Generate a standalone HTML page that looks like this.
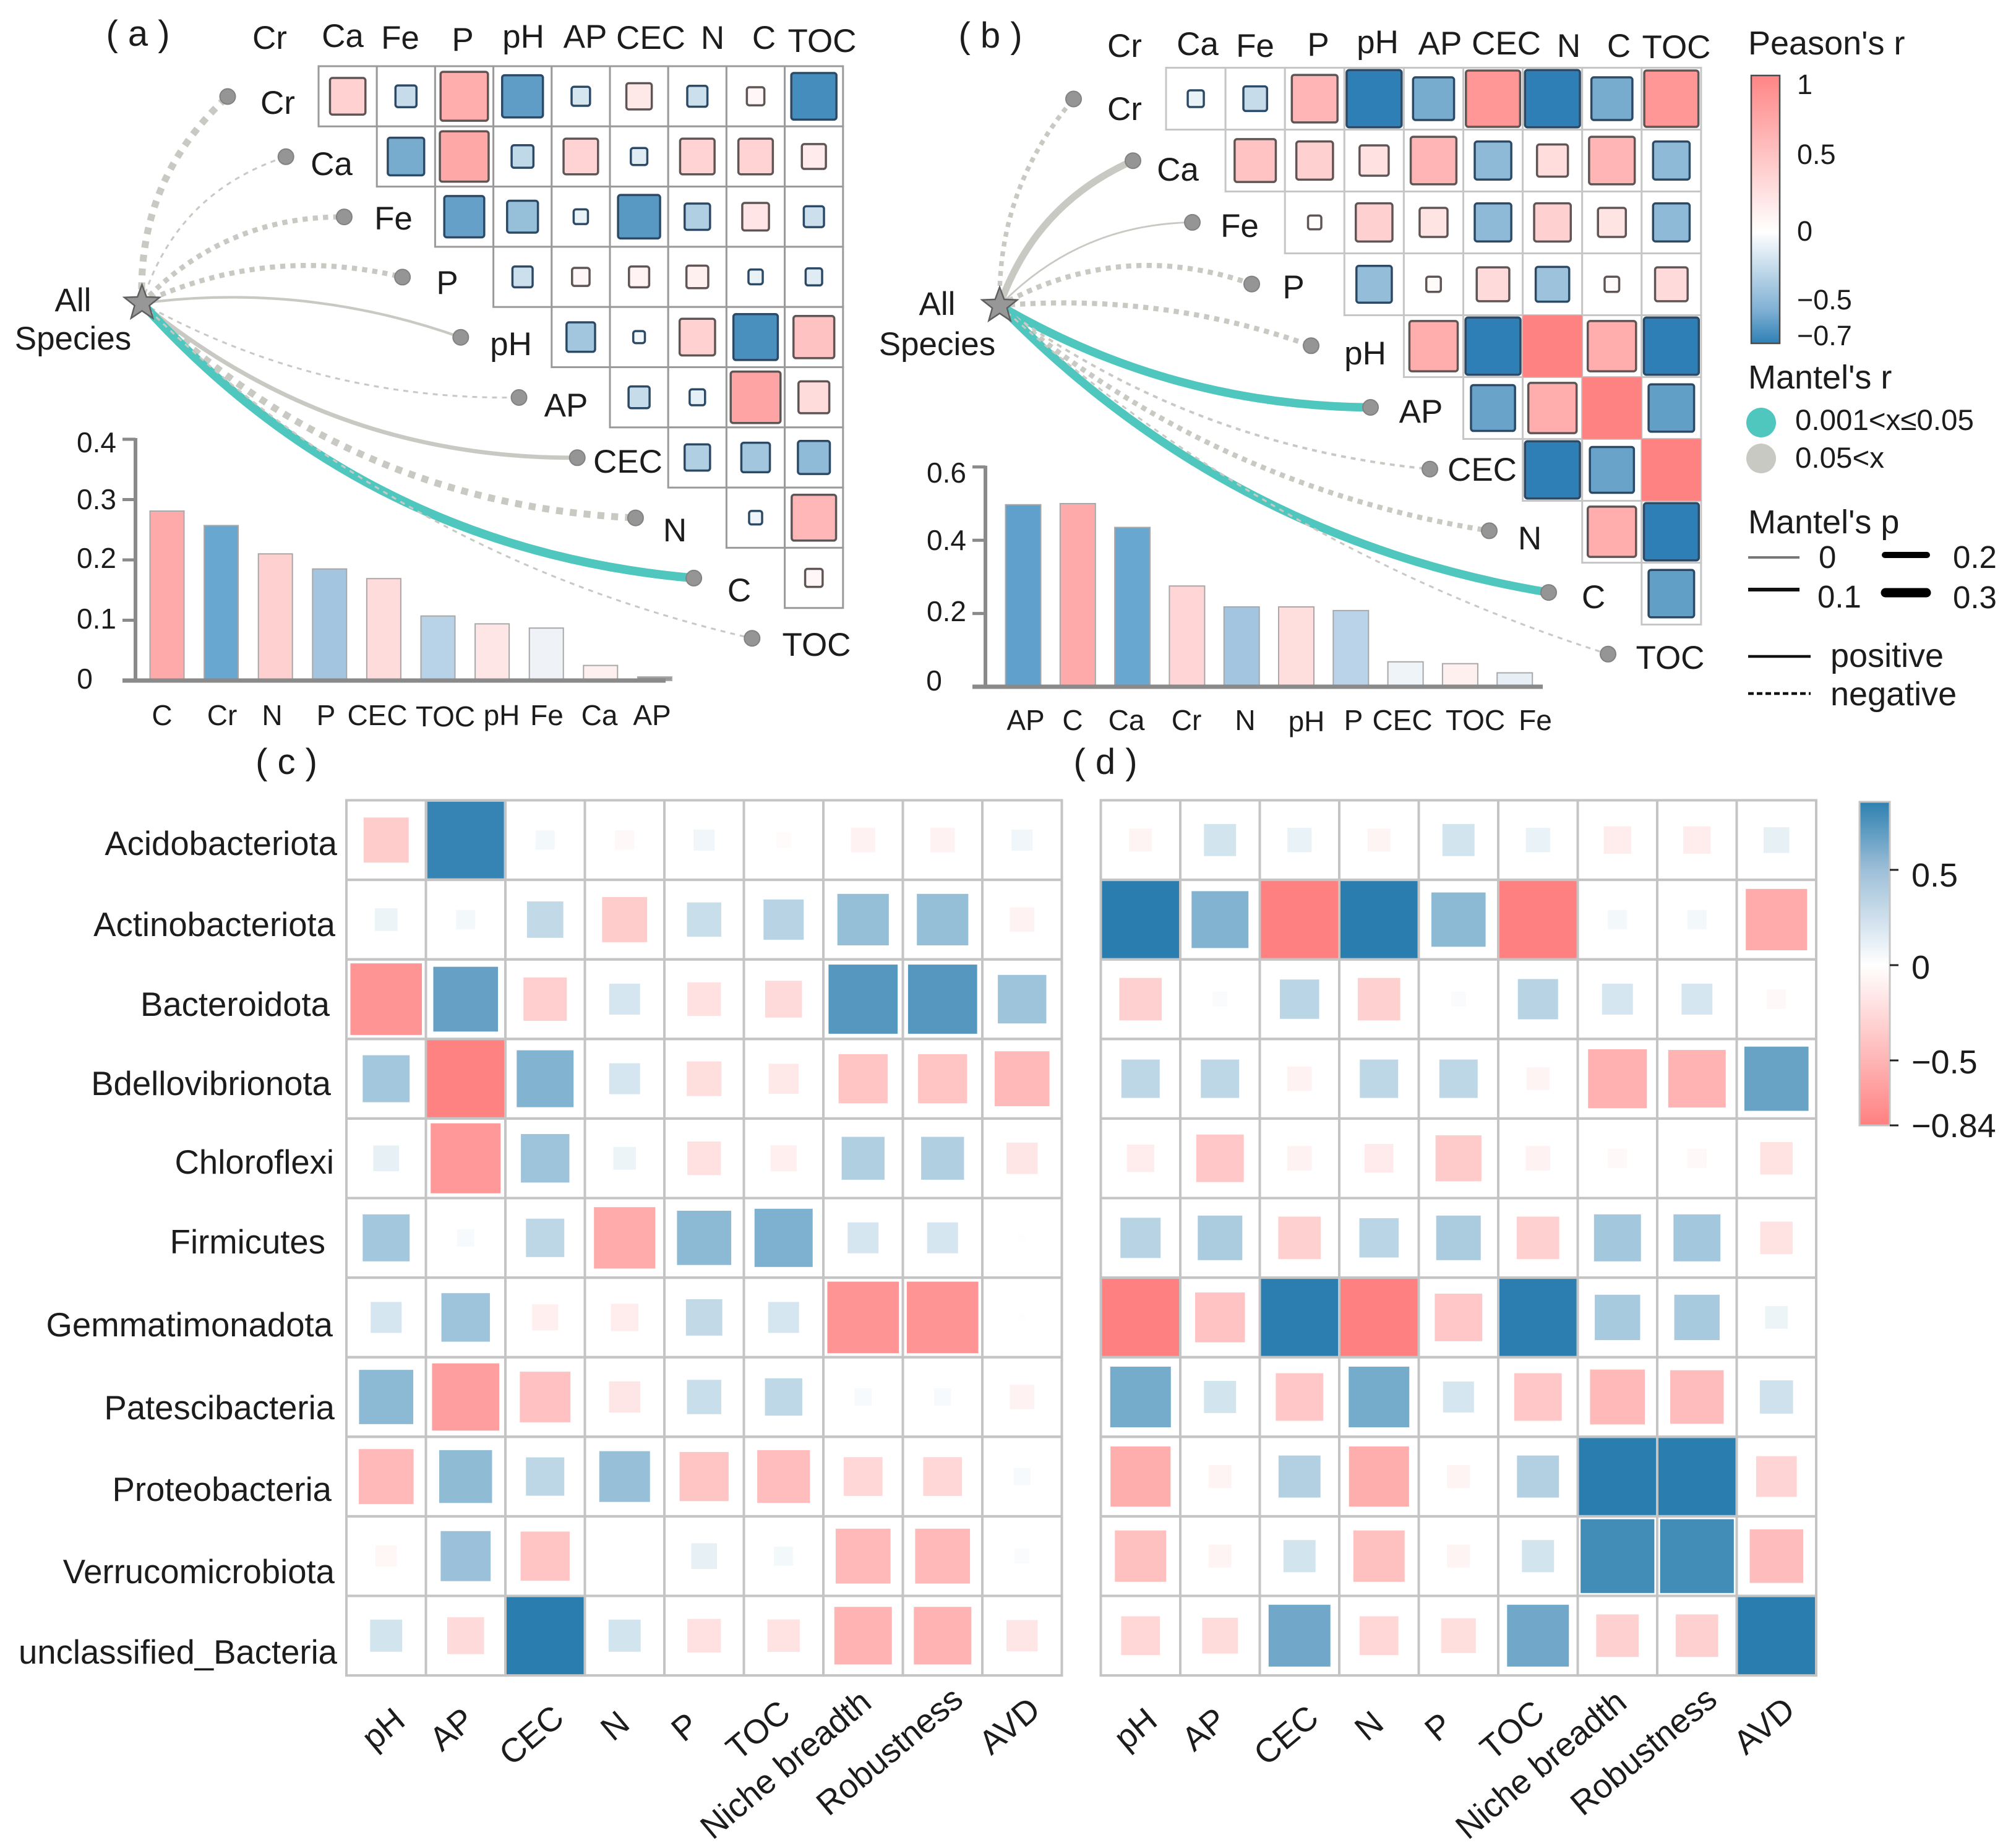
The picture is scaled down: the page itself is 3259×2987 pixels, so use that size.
<!DOCTYPE html>
<html>
<head>
<meta charset="utf-8">
<title>Mantel and correlation heatmaps</title>
<style>
html,body{margin:0;padding:0;background:#fff;}
svg{display:block;}
text{font-family:"Liberation Sans",sans-serif;fill:#1c1c1c;}
.t52{font-size:53px;text-anchor:middle;}
.tp{font-size:58px;text-anchor:middle;}
.t46{font-size:46px;text-anchor:middle;}
.lab{font-size:54.5px;text-anchor:end;}
.rot{font-size:54.5px;text-anchor:end;}
.leg{font-size:54px;}
.cb{font-size:45px;}
.cbd{font-size:54px;}
</style>
</head>
<body>
<svg id="chart" xmlns="http://www.w3.org/2000/svg" width="3259" height="2987" viewBox="0 0 3259 2987">
<defs>
<linearGradient id="gradTop" x1="0" y1="0" x2="0" y2="1">
<stop offset="0" stop-color="#ff8585"/><stop offset="0.292" stop-color="#ffc2c2"/><stop offset="0.584" stop-color="#ffffff"/><stop offset="0.876" stop-color="#7fb0d4"/><stop offset="1" stop-color="#2f80b5"/>
</linearGradient>
<linearGradient id="gradBottom" x1="0" y1="0" x2="0" y2="1">
<stop offset="0" stop-color="#2e80b0"/><stop offset="0.21" stop-color="#9dbfd8"/><stop offset="0.505" stop-color="#ffffff"/><stop offset="0.799" stop-color="#ffb5b5"/><stop offset="1" stop-color="#ff8080"/>
</linearGradient>
</defs>
<rect x="0" y="0" width="3259" height="2987" fill="#ffffff"/>

<g id="linksA"></g>
<g id="linksB"></g>
<g id="gridA"></g>
<g id="gridB"></g>
<g id="barsA"></g>
<g id="barsB"></g>
<g id="heatC"></g>
<g id="heatD"></g>

<g class="panel-labels">
<text class="tp" x="223" y="74">( a )</text>
<text class="tp" x="1601" y="77">( b )</text>
<text class="tp" x="463" y="1251">( c )</text>
<text class="tp" x="1787" y="1251">( d )</text>
</g>

<g>
<text class="t52" x="436" y="79">Cr</text><text class="t52" x="554" y="76">Ca</text><text class="t52" x="647" y="79">Fe</text><text class="t52" x="748" y="82">P</text><text class="t52" x="846" y="77">pH</text><text class="t52" x="946" y="77">AP</text><text class="t52" x="1052" y="79">CEC</text><text class="t52" x="1152" y="79">N</text><text class="t52" x="1235" y="79">C</text><text class="t52" x="1329" y="84">TOC</text>
</g>
<g>
<text class="t52" x="449" y="184">Cr</text><text class="t52" x="536" y="283">Ca</text><text class="t52" x="636" y="371">Fe</text><text class="t52" x="723" y="475">P</text><text class="t52" x="826" y="574">pH</text><text class="t52" x="915" y="673">AP</text><text class="t52" x="1015" y="764">CEC</text><text class="t52" x="1091" y="875">N</text><text class="t52" x="1195" y="972">C</text><text class="t52" x="1320" y="1060">TOC</text>
<text class="t52" x="118" y="503">All</text><text class="t52" x="118" y="565">Species</text>
</g>
<g>
<text class="t52" x="1818" y="92">Cr</text><text class="t52" x="1936" y="89">Ca</text><text class="t52" x="2029" y="92">Fe</text><text class="t52" x="2131" y="90">P</text><text class="t52" x="2227" y="86">pH</text><text class="t52" x="2328" y="88">AP</text><text class="t52" x="2435" y="88">CEC</text><text class="t52" x="2536" y="92">N</text><text class="t52" x="2617" y="92">C</text><text class="t52" x="2710" y="94">TOC</text>
</g>
<g>
<text class="t52" x="1818" y="194">Cr</text><text class="t52" x="1904" y="292">Ca</text><text class="t52" x="2004" y="383">Fe</text><text class="t52" x="2091" y="482">P</text><text class="t52" x="2207" y="589">pH</text><text class="t52" x="2297" y="683">AP</text><text class="t52" x="2396" y="777">CEC</text><text class="t52" x="2473" y="888">N</text><text class="t52" x="2576" y="983">C</text><text class="t52" x="2700" y="1081">TOC</text>
<text class="t52" x="1515" y="509">All</text><text class="t52" x="1515" y="574">Species</text>
</g>

<g>
<text class="t46" x="156" y="731">0.4</text><text class="t46" x="156" y="823">0.3</text><text class="t46" x="156" y="918">0.2</text><text class="t46" x="156" y="1016">0.1</text><text class="t46" x="137" y="1113">0</text>
<text class="t46" x="262" y="1172">C</text><text class="t46" x="359" y="1172">Cr</text><text class="t46" x="440" y="1172">N</text><text class="t46" x="527" y="1172">P</text><text class="t46" x="610" y="1172">CEC</text><text class="t46" x="720" y="1174">TOC</text><text class="t46" x="811" y="1172">pH</text><text class="t46" x="884" y="1172">Fe</text><text class="t46" x="969" y="1172">Ca</text><text class="t46" x="1054" y="1172">AP</text>
</g>
<g>
<text class="t46" x="1530" y="780">0.6</text><text class="t46" x="1530" y="889">0.4</text><text class="t46" x="1530" y="1004">0.2</text><text class="t46" x="1510" y="1116">0</text>
<text class="t46" x="1658" y="1180">AP</text><text class="t46" x="1734" y="1180">C</text><text class="t46" x="1821" y="1180">Ca</text><text class="t46" x="1918" y="1180">Cr</text><text class="t46" x="2013" y="1180">N</text><text class="t46" x="2112" y="1182">pH</text><text class="t46" x="2188" y="1180">P</text><text class="t46" x="2267" y="1180">CEC</text><text class="t46" x="2385" y="1180">TOC</text><text class="t46" x="2482" y="1180">Fe</text>
</g>

<g>
<text class="leg" x="2826" y="88">Peason's r</text>
<rect x="2831" y="122" width="46" height="433" fill="url(#gradTop)" stroke="#4a4a4a" stroke-width="2.5"/>
<text class="cb" x="2905" y="152">1</text><text class="cb" x="2905" y="265">0.5</text><text class="cb" x="2905" y="389">0</text><text class="cb" x="2905" y="500">−0.5</text><text class="cb" x="2905" y="558">−0.7</text>
<text class="leg" x="2826" y="628">Mantel's r</text>
<circle cx="2847" cy="683" r="24" fill="#4fc7bf"/>
<circle cx="2847" cy="741" r="24" fill="#c9c9c3"/>
<text x="2902" y="695" style="font-size:47.5px">0.001&lt;x≤0.05</text>
<text x="2902" y="756" style="font-size:47.5px">0.05&lt;x</text>
<text class="leg" x="2826" y="862">Mantel's p</text>
<line x1="2826" y1="901" x2="2909" y2="901" stroke="#777" stroke-width="4"/>
<line x1="2826" y1="953" x2="2909" y2="953" stroke="#111" stroke-width="6"/>
<line x1="3047" y1="897" x2="3115" y2="897" stroke="#000" stroke-width="10" stroke-linecap="round"/>
<line x1="3048" y1="958" x2="3114" y2="958" stroke="#000" stroke-width="15" stroke-linecap="round"/>
<text x="2940" y="918" style="font-size:51px">0</text><text x="2938" y="982" style="font-size:51px">0.1</text><text x="3157" y="918" style="font-size:51px">0.2</text><text x="3157" y="983" style="font-size:51px">0.3</text>
<line x1="2826" y1="1061" x2="2927" y2="1061" stroke="#111" stroke-width="4.5"/>
<line x1="2826" y1="1121" x2="2927" y2="1121" stroke="#111" stroke-width="4.5" stroke-dasharray="9 5"/>
<text class="leg" x="2959" y="1078">positive</text><text class="leg" x="2959" y="1140">negative</text>
</g>

<g>
<text class="lab" x="545" y="1382">Acidobacteriota</text><text class="lab" x="542" y="1513">Actinobacteriota</text><text class="lab" x="533" y="1642">Bacteroidota</text><text class="lab" x="535" y="1770">Bdellovibrionota</text><text class="lab" x="540" y="1897">Chloroflexi</text><text class="lab" x="526" y="2026">Firmicutes</text><text class="lab" x="538" y="2160">Gemmatimonadota</text><text class="lab" x="541" y="2294">Patescibacteria</text><text class="lab" x="536" y="2426">Proteobacteria</text><text class="lab" x="541" y="2559">Verrucomicrobiota</text><text class="lab" x="545" y="2689">unclassified_Bacteria</text>
</g>
<g>
<text class="rot" transform="translate(658,2786) rotate(-40)">pH</text><text class="rot" transform="translate(770,2786) rotate(-40)">AP</text><text class="rot" transform="translate(915,2782) rotate(-40)">CEC</text><text class="rot" transform="translate(1021,2791) rotate(-40)">N</text><text class="rot" transform="translate(1133,2794) rotate(-40)">P</text><text class="rot" transform="translate(1281,2774) rotate(-40)">TOC</text><text class="rot" transform="translate(1412,2757) rotate(-40)">Niche breadth</text><text class="rot" transform="translate(1560,2752) rotate(-40)">Robustness</text><text class="rot" transform="translate(1685,2769) rotate(-40)">AVD</text>
</g>
<g>
<text class="rot" transform="translate(1874,2786) rotate(-40)">pH</text><text class="rot" transform="translate(1986,2786) rotate(-40)">AP</text><text class="rot" transform="translate(2135,2782) rotate(-40)">CEC</text><text class="rot" transform="translate(2240,2791) rotate(-40)">N</text><text class="rot" transform="translate(2351,2794) rotate(-40)">P</text><text class="rot" transform="translate(2500,2774) rotate(-40)">TOC</text><text class="rot" transform="translate(2633,2757) rotate(-40)">Niche breadth</text><text class="rot" transform="translate(2779,2752) rotate(-40)">Robustness</text><text class="rot" transform="translate(2905,2769) rotate(-40)">AVD</text>
</g>

<g>
<rect x="3006" y="1296" width="49" height="523" fill="url(#gradBottom)" stroke="#c4c4c4" stroke-width="3"/>
<line x1="3055" y1="1406" x2="3069" y2="1406" stroke="#222" stroke-width="3"/>
<line x1="3055" y1="1560" x2="3069" y2="1560" stroke="#222" stroke-width="3"/>
<line x1="3055" y1="1714" x2="3069" y2="1714" stroke="#222" stroke-width="3"/>
<line x1="3055" y1="1819" x2="3069" y2="1819" stroke="#222" stroke-width="3"/>
<text class="cbd" x="3090" y="1433">0.5</text><text class="cbd" x="3090" y="1582">0</text><text class="cbd" x="3090" y="1735">−0.5</text><text class="cbd" x="3090" y="1838">−0.84</text>
</g>
</svg>

<script>
// ---------- Panel (a) Pearson matrix: red = positive, blue = negative ----------
const matrixARows = [
  [0.37,-0.13,0.66,-0.49,-0.10,0.19,-0.12,0.09,-0.60],
  [-0.39,0.70,-0.14,0.35,-0.08,0.35,0.35,0.17],
  [-0.47,-0.28,-0.06,-0.52,-0.19,0.21,-0.12],
  [-0.12,0.09,0.12,0.14,-0.06,-0.08],
  [-0.24,-0.04,0.37,-0.58,0.49],
  [-0.13,-0.07,0.73,0.28],
  [-0.19,-0.24,-0.30],
  [-0.05,0.58],
  [0.09]
];
// ---------- Panel (b) Pearson matrix ----------
const matrixBRows = [
  [-0.06,-0.13,0.59,-0.70,-0.39,0.83,-0.70,-0.39,0.83],
  [0.48,0.38,0.24,0.59,-0.31,0.27,0.59,-0.31],
  [0.05,0.38,0.22,-0.31,0.38,0.22,-0.31],
  [-0.29,0.06,0.30,-0.26,0.06,0.30],
  [0.66,-0.70,1.00,0.66,-0.70],
  [-0.45,0.66,1.00,-0.48],
  [-0.70,-0.45,1.00],
  [0.66,-0.70],
  [-0.48]
];
// ---------- Mantel links: Mantel's p class (line weight), sign, significance ----------
const linkAWeight = [0.3,0.02,0.2,0.2,0.06,0.02,0.15,0.3,0.4,0.02];
const linkANegative = [1,1,1,1,0,1,0,1,0,1];
const linkASignificant = [0,0,0,0,0,0,0,0,1,0];
const linkABend = [0.233,0.26,0.217,0.175,0.12,-0.133,-0.181,-0.19,-0.197,-0.143];
const linkBWeight = [0.17,0.3,0.01,0.2,0.2,0.38,0.05,0.2,0.38,0.02];
const linkBNegative = [1,0,0,1,1,0,1,1,0,1];
const linkBSignificant = [0,0,0,0,0,1,0,0,1,0];
const linkBBend = [0.19,0.216,0.207,0.225,0.108,-0.133,-0.137,-0.14,-0.164,-0.107];
// ---------- Bars ----------
const barACategories = ['C','Cr','N','P','CEC','TOC','pH','Fe','Ca','AP'];
const barAValues = [0.281,0.257,0.21,0.185,0.169,0.107,0.094,0.087,0.025,0.006];
const barAColors = ['#ffaaaa','#68a7d0','#ffd0d0','#a3c5e0','#ffdcdc','#b8d2e7','#ffe6e6','#eff3f7','#fff0f0','#999999'];
const barATicks = [0,0.1,0.2,0.3,0.4];
const barBCategories = ['AP','C','Ca','Cr','N','pH','P','CEC','TOC','Fe'];
const barBValues = [0.497,0.50,0.435,0.275,0.218,0.218,0.208,0.068,0.063,0.038];
const barBColors = ['#5fa0cc','#ffaaaa','#68a7d0','#ffd5d5','#a3c5e0','#ffdede','#bad3e8','#eff4f8','#fff0f0','#e6eff6'];
const barBTicks = [0,0.2,0.4,0.6];
// ---------- Heatmap (c): blue = positive, red = negative ----------
const heatCRows = [
  [-0.27,0.80,0.05,-0.05,0.06,-0.03,-0.08,-0.08,0.06],
  [0.07,0.05,0.18,-0.27,0.16,0.22,0.36,0.36,-0.08],
  [-0.68,0.57,-0.25,0.13,-0.15,-0.18,0.65,0.65,0.32],
  [0.30,-0.82,0.44,0.13,-0.16,-0.12,-0.32,-0.32,-0.40],
  [0.09,-0.65,0.32,0.07,-0.15,-0.09,0.25,0.25,-0.13],
  [0.30,0.04,0.20,-0.50,0.40,0.46,0.13,0.13,0.01],
  [0.13,0.32,-0.09,-0.10,0.18,0.13,-0.68,-0.68,0.01],
  [0.40,-0.60,-0.34,-0.13,0.16,0.19,0.04,0.04,-0.08],
  [-0.40,0.38,0.20,0.35,-0.32,-0.37,-0.20,-0.20,0.04],
  [-0.06,0.34,-0.32,0,0.09,0.05,-0.40,-0.40,0.03],
  [0.14,-0.18,0.86,0.14,-0.15,-0.14,-0.44,-0.44,-0.13]
];
// ---------- Heatmap (d) ----------
const heatDRows = [
  [-0.07,0.14,0.08,-0.07,0.14,0.08,-0.10,-0.10,0.09],
  [0.86,0.44,-0.84,0.86,0.40,-0.84,0.05,0.05,-0.50],
  [-0.24,0.03,0.21,-0.24,0.03,0.22,0.13,0.13,-0.05],
  [0.20,0.20,-0.08,0.20,0.20,-0.07,-0.46,-0.44,0.56],
  [-0.10,-0.30,-0.08,-0.11,-0.28,-0.08,-0.05,-0.05,-0.14],
  [0.22,0.27,-0.24,0.21,0.27,-0.24,0.30,0.30,-0.14],
  [-0.84,-0.33,0.85,-0.84,-0.30,0.85,0.28,0.28,0.07],
  [0.50,0.14,-0.30,0.50,0.13,-0.30,-0.40,-0.38,0.15],
  [-0.48,-0.07,0.24,-0.48,-0.07,0.24,0.86,0.86,-0.22],
  [-0.35,-0.07,0.14,-0.35,-0.07,0.14,0.74,0.74,-0.38],
  [-0.20,-0.17,0.52,-0.20,-0.16,0.52,-0.24,-0.24,0.86]
];

const NS = 'http://www.w3.org/2000/svg';
function make(tag, attrs, parent) {
  const el = document.createElementNS(NS, tag);
  for (const k in attrs) el.setAttribute(k, attrs[k]);
  parent.appendChild(el);
  return el;
}
function lerp(a, b, t) { return Math.round(a + (b - a) * t); }
function rgb(c, t) { return 'rgb(' + lerp(255, c[0], t) + ',' + lerp(255, c[1], t) + ',' + lerp(255, c[2], t) + ')'; }
function ramp(t, power) {
  const c = Math.min(1, t);
  return Math.pow(c, power) * Math.min(1, Math.sqrt(c / 0.2));
}

// ---------- top matrices ----------
function pearsonFill(r) {
  if (r >= 0) return rgb([255,130,130], ramp(r, 1));
  return rgb([46,127,181], ramp(-r / 0.7, 0.75));
}
function drawMatrix(group, rows, x0, y0, w, h, blueScale, gridColor) {
  rows.forEach(function (row, i) {
    row.forEach(function (r, j) {
      const col = i + j;
      const cell = make('rect', {x: x0 + col * w, y: y0 + i * h, width: w, height: h, fill: '#fff', stroke: gridColor, 'stroke-width': 3}, group);
      
      
    });
  });
  rows.forEach(function (row, i) {
    row.forEach(function (r, j) {
      const col = i + j;
      const f = Math.min(1, Math.sqrt(Math.abs(r) / (r < 0 ? blueScale : 1)));
      const sw = w * f, sh = h * f;
      const cx = x0 + (col + 0.5) * w;
      const cy = y0 + (i + 0.5) * h;
      const full = f >= 0.99;
      const sq = make('rect', {x: cx - sw / 2, y: cy - sh / 2, width: sw, height: sh, rx: full ? 0 : 4,
        fill: pearsonFill(r), stroke: full ? 'none' : (r < 0 ? '#2c4a66' : '#5f5555'), 'stroke-width': 3.5}, group);
      
      
    });
  });
}
drawMatrix(document.getElementById('gridA'), matrixARows, 515, 107, 94.2, 97.3, 1, '#9a9a9a');
drawMatrix(document.getElementById('gridB'), matrixBRows, 1885, 109.5, 96.1, 100, 0.82, '#c6c6c6');

// ---------- Mantel links ----------
function drawLinks(group, star, origin, step, weights, negs, sigs, bends) {
  weights.forEach(function (p, i) {
    const ex = origin[0] + step[0] * i;
    const ey = origin[1] + step[1] * i;
    const dx = ex - star[0], dy = ey - star[1];
    const mx = (ex + star[0]) / 2, my = (ey + star[1]) / 2;
    const qx = mx + bends[i] * dy, qy = my - bends[i] * dx;
    const width = 2.5 + p * 29;
    const path = make('path', {d: 'M' + star[0] + ' ' + star[1] + ' Q' + qx + ' ' + qy + ' ' + ex + ' ' + ey,
      fill: 'none', stroke: sigs[i] ? '#4fc7bf' : '#c9c9c3', 'stroke-width': width}, group);
    if (negs[i]) path.setAttribute('stroke-dasharray', Math.max(8, width) + ' ' + Math.max(8, width));
    
    
  });
  weights.forEach(function (p, i) {
    const dot = make('circle', {cx: origin[0] + step[0] * i, cy: origin[1] + step[1] * i, r: 12.5, fill: '#959595', stroke: '#828282', 'stroke-width': 2}, group);
    
    
  });
  const pts = [];
  for (let k = 0; k < 10; k++) {
    const rad = k % 2 === 0 ? 30 : 12.5;
    const ang = -Math.PI / 2 + k * Math.PI / 5;
    pts.push((star[0] + rad * Math.cos(ang)).toFixed(1) + ',' + (star[1] + rad * Math.sin(ang)).toFixed(1));
  }
  const st = make('polygon', {points: pts.join(' '), fill: '#979797', stroke: '#5f5f5f', 'stroke-width': 2.5}, group);
  
  
}
drawLinks(document.getElementById('linksA'), [229.5, 490], [368, 156], [94.2, 97.3], linkAWeight, linkANegative, linkASignificant, linkABend);
drawLinks(document.getElementById('linksB'), [1616, 494], [1735.5, 160], [96, 99.7], linkBWeight, linkBNegative, linkBSignificant, linkBBend);

// ---------- Bars ----------
function drawBars(group, values, colors, ticks, cfg) {
  const y = function (v) { return cfg.y0 - v * cfg.unit; };
  const x = function (i) { return cfg.x0 + i * cfg.step; };
  values.forEach(function (v, i) {
    const bar = make('rect', {x: x(i) - cfg.w / 2, y: y(v), width: cfg.w, height: y(0) - y(v), fill: colors[i], stroke: '#a8a8a8', 'stroke-width': 2}, group);
    
    
  });
  const axis = make('line', {x1: cfg.ax, y1: y(ticks[ticks.length - 1]) - 2, x2: cfg.ax, y2: cfg.y0, stroke: '#8a8a8a', 'stroke-width': 6}, group);
  
  
  const base = make('line', {x1: cfg.ax - 21, y1: cfg.y0, x2: cfg.xEnd, y2: cfg.y0, stroke: '#8a8a8a', 'stroke-width': 7}, group);
  
  
  ticks.forEach(function (t) {
    const tk = make('line', {x1: cfg.ax - 21, y1: y(t), x2: cfg.ax, y2: y(t), stroke: '#8a8a8a', 'stroke-width': 5}, group);
    
    
  });
}
drawBars(document.getElementById('barsA'), barAValues, barAColors, barATicks, {x0: 270, step: 87.6, w: 55, y0: 1100, unit: 975, ax: 219, xEnd: 1076});
drawBars(document.getElementById('barsB'), barBValues, barBColors, barBTicks, {x0: 1654, step: 88.3, w: 57, y0: 1110, unit: 592, ax: 1593, xEnd: 2494});

// ---------- Heatmaps ----------
function heatFill(r) {
  if (r < 0) return rgb([255,128,128], ramp(-r / 0.84, 0.8));
  return rgb([42,125,175], ramp(r / 0.86, 0.8));
}
function drawHeat(group, rows, x0, y0, cw, ch) {
  const back = make('rect', {x: x0, y: y0, width: cw * rows[0].length, height: ch * rows.length, fill: '#fff'}, group);
  
  
  rows.forEach(function (row, i) {
    row.forEach(function (r, j) {
      const f = Math.min(1, Math.sqrt(Math.abs(r) / (r < 0 ? 0.84 : 0.86)));
      const sw = cw * f, sh = ch * f;
      const sq = make('rect', {x: x0 + (j + 0.5) * cw - sw / 2, y: y0 + (i + 0.5) * ch - sh / 2, width: sw, height: sh, fill: heatFill(r)}, group);
      
      
    });
  });
  rows.forEach(function (row, i) {
    row.forEach(function (r, j) {
      const cell = make('rect', {x: x0 + j * cw, y: y0 + i * ch, width: cw, height: ch, fill: 'none', stroke: '#c4c4c4', 'stroke-width': 4}, group);
      
      
    });
  });
}
drawHeat(document.getElementById('heatC'), heatCRows, 560, 1293.5, 128.5, 128.6);
drawHeat(document.getElementById('heatD'), heatDRows, 1779.5, 1293.5, 128.5, 128.6);
</script>
</body>
</html>
